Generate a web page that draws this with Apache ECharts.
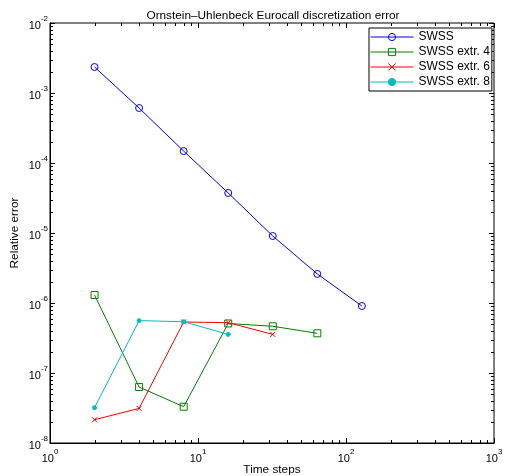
<!DOCTYPE html>
<html>
<head>
<meta charset="utf-8">
<script src="https://cdn.jsdelivr.net/npm/echarts@6/dist/echarts.min.js"></script>
<style>
  html, body { margin: 0; padding: 0; background: #fff; }
  #chart { width: 506px; height: 476px; }
</style>
</head>
<body>
<div id="chart"></div>
<script>
// Number of time steps used for each run
const steps = [2, 4, 8, 16, 32, 64, 128];

// Relative error of the plain scheme and of its extrapolations
const swss      = [2.35e-3, 6.1e-4, 1.48e-4, 3.73e-5, 9.06e-6, 2.6e-6, 9.06e-7];
const swssExt4  = [1.3e-6, 6.3e-8, 3.3e-8, 5.1e-7, 4.65e-7, 3.69e-7];
const swssExt6  = [2.15e-8, 3.12e-8, 5.35e-7, 5.24e-7, 3.56e-7];
const swssExt8  = [3.2e-8, 5.6e-7, 5.4e-7, 3.56e-7];

const seriesNames = ['SWSS', 'SWSS extr. 4', 'SWSS extr. 6', 'SWSS extr. 8'];

// Tick positions for the log axes (decades and the minor steps in between)
const xMajorTicks = [1, 10, 100, 1000];
const yMajorTicks = [1e-8, 1e-7, 1e-6, 1e-5, 1e-4, 1e-3, 1e-2];
const minorMultipliers = [2, 3, 4, 5, 6, 7, 8, 9];

function pairs(xs, ys) {
  return ys.map((y, i) => [xs[i], y]);
}

function minorOf(majors) {
  const out = [];
  for (let i = 0; i < majors.length - 1; i++) {
    minorMultipliers.forEach(m => out.push(majors[i] * m));
  }
  return out;
}

const xTickData = xMajorTicks.map(v => [v, 1e-5, 1]).concat(minorOf(xMajorTicks).map(v => [v, 1e-5, 0]));
const yTickData = yMajorTicks.map(v => [10, v, 1]).concat(minorOf(yMajorTicks).map(v => [10, v, 0]));

const FONT = 'Liberation Sans, Arial, Helvetica, sans-serif';

function powerLabel(value) {
  const e = Math.round(Math.log10(value));
  return '{b|10}{s|' + e + '}';
}

const richPow = {
  b: { fontSize: 11, fontFamily: FONT, color: '#000', padding: [5, 0, 0, 0] },
  s: { fontSize: 8, fontFamily: FONT, color: '#000', verticalAlign: 'top', padding: [0, 0, 0, 0] }
};

// Tick marks on all four sides of the box
function tickItem(isX) {
  return function (params, api) {
    const cs = params.coordSys;
    const major = api.value(2) === 1;
    const len = major ? 5 : 3;
    const style = { stroke: '#000', lineWidth: 1 };
    if (isX) {
      const px = Math.round(api.coord([api.value(0), api.value(1)])[0]) + 0.5;
      const b = cs.y + cs.height, t = cs.y;
      return { type: 'group', children: [
        { type: 'line', shape: { x1: px, y1: b, x2: px, y2: b - len }, style },
        { type: 'line', shape: { x1: px, y1: t, x2: px, y2: t + len }, style }
      ]};
    } else {
      const py = Math.round(api.coord([api.value(0), api.value(1)])[1]) + 0.5;
      const l = cs.x, r = cs.x + cs.width;
      return { type: 'group', children: [
        { type: 'line', shape: { x1: l, y1: py, x2: l + len, y2: py }, style },
        { type: 'line', shape: { x1: r, y1: py, x2: r - len, y2: py }, style }
      ]};
    }
  };
}

const chart = echarts.init(document.getElementById('chart'), null, { renderer: 'canvas' });

function lineSeries(name, data, color, symbol, size, filled) {
  return {
    name, type: 'line', data,
    symbol, symbolSize: size,
    showAllSymbol: true,
    lineStyle: { color, width: 1 },
    itemStyle: { color: filled ? color : 'rgba(0,0,0,0)', borderColor: color, borderWidth: 1 },
    emphasis: { disabled: true },
    z: 3
  };
}

chart.setOption({
  animation: false,
  backgroundColor: '#fff',
  title: {
    text: 'Ornstein\u2013Uhlenbeck Eurocall discretization error',
    left: 268, top: 5, textAlign: 'center',
    textStyle: { fontSize: 11.8, fontWeight: 'normal', fontFamily: FONT, color: '#000' }
  },
  grid: {
    left: 50, top: 23, right: 12, bottom: 33,
    outerBoundsMode: 'none', containLabel: false,
    show: true, borderColor: '#000', borderWidth: 1, backgroundColor: '#fff'
  },
  legend: {
    data: seriesNames,
    orient: 'vertical',
    left: 369, top: 28,
    itemWidth: 43, itemHeight: 9, itemGap: 1,
    padding: [2, 2, 2, 1],
    borderColor: '#000', borderWidth: 1, backgroundColor: '#fff',
    lineStyle: { width: 1 },
    itemStyle: { borderWidth: 1 },
    textStyle: { fontSize: 12, lineHeight: 14, fontFamily: FONT, color: '#000', padding: [0, 0, 0, 0] },
    selectedMode: false
  },
  xAxis: {
    type: 'log', logBase: 10, min: 1, max: 1000,
    name: 'Time steps', nameLocation: 'middle', nameGap: 21, nameMoveOverlap: false,
    nameTextStyle: { fontSize: 11.8, fontFamily: FONT, color: '#000' },
    axisLine: { lineStyle: { color: '#000', width: 1 } },
    axisTick: { show: false },
    splitLine: { show: false },
    axisLabel: { formatter: powerLabel, rich: richPow, margin: 5, color: '#000' }
  },
  yAxis: {
    type: 'log', logBase: 10, min: 1e-8, max: 1e-2,
    name: 'Relative error', nameLocation: 'middle', nameGap: 29, nameMoveOverlap: false,
    nameTextStyle: { fontSize: 11.8, fontFamily: FONT, color: '#000' },
    axisLine: { lineStyle: { color: '#000', width: 1 } },
    axisTick: { show: false },
    splitLine: { show: false },
    axisLabel: { formatter: powerLabel, rich: richPow, margin: 2, color: '#000' }
  },
  series: [
    lineSeries('SWSS', pairs(steps, swss), '#0000ff', 'circle', 7, false),
    lineSeries('SWSS extr. 4', pairs(steps, swssExt4), '#008000', 'rect', 7, false),
    lineSeries('SWSS extr. 6', pairs(steps, swssExt6), '#ff0000', 'path://M0,0L10,10M10,0L0,10', 5, false),
    lineSeries('SWSS extr. 8', pairs(steps, swssExt8), '#00bfbf', 'circle', 4, true),
    {
      type: 'custom', name: 'xticks', data: xTickData,
      encode: { x: 0, y: 1 }, renderItem: tickItem(true), silent: true, z: 1
    },
    {
      type: 'custom', name: 'yticks', data: yTickData,
      encode: { x: 0, y: 1 }, renderItem: tickItem(false), silent: true, z: 1
    }
  ]
});
</script>
</body>
</html>
